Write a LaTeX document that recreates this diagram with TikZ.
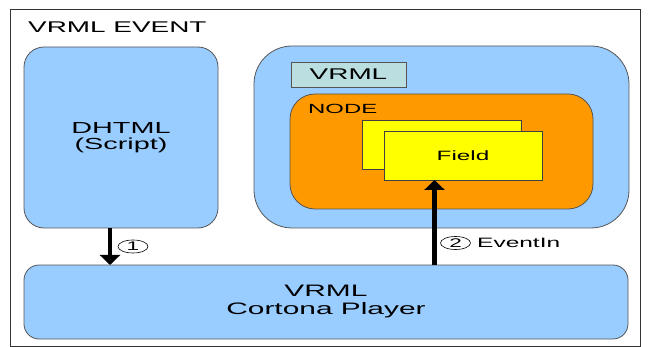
\documentclass[tikz,border=0pt]{standalone}
\usepackage{fontspec}
\setmainfont{Liberation Sans}[FakeStretch=1.8]
\usetikzlibrary{arrows.meta,shapes.geometric}
\definecolor{lblue}{HTML}{99CCFF}
\definecolor{orng}{HTML}{FF9900}
\definecolor{yel}{HTML}{FFFF00}
\definecolor{teal2}{HTML}{BBDFE0}
\definecolor{edge}{HTML}{555555}
\begin{document}
\begin{tikzpicture}[x=1pt,y=-1pt,
  panel/.style={draw=edge, line width=0.8pt, inner sep=0pt, outer sep=0pt},
  bluebox/.style={panel, fill=lblue},
  arr/.style={line width=4.5pt, -{Triangle[width=20pt,length=10pt]}},
  circ/.style={ellipse, draw=black, line width=0.6pt, minimum width=30pt, minimum height=13pt, inner sep=0pt, font=\fontsize{12.5}{12}\selectfont}
]
\useasboundingbox (0,0) rectangle (650,347);
\draw[line width=0.8pt, draw=black!80] (10,9) rectangle (640,346);
\node[anchor=base west, inner sep=0pt, font=\fontsize{15.5}{16}\selectfont] (title) at (28,33) {VRML EVENT};

\node[bluebox, rounded corners=20pt, minimum width=194pt, minimum height=181pt,
      align=center, font=\fontsize{16}{16}\selectfont] (dhtml) at (121,137.5) {DHTML\\(Script)};

\node[bluebox, rounded corners=38pt, minimum width=375pt, minimum height=182pt] (vrmlbox) at (441.5,137) {};
\node[panel, fill=teal2, minimum width=115pt, minimum height=25pt, font=\fontsize{15.5}{16}\selectfont] (vrmllabel) at (348.5,74.5) {VRML};
\node[panel, fill=orng, rounded corners=25pt, minimum width=303pt, minimum height=115pt] (node) at (441.5,151.5) {};
\node[anchor=base west, inner sep=0pt, font=\fontsize{13.3}{14}\selectfont] (nodelabel) at (308,114) {NODE};
\node[panel, draw=black!75, fill=yel, minimum width=159pt, minimum height=49pt] (fieldback) at (441.5,144.5) {};
\node[panel, draw=black!75, fill=yel, minimum width=158pt, minimum height=49pt, font=\fontsize{13.5}{14}\selectfont] (field) at (463,155.5) {Field};

\node[bluebox, rounded corners=15pt, minimum width=604pt, minimum height=74pt,
      align=center, font=\fontsize{16.6}{18}\selectfont] (player) at (326,302) {VRML\\Cortona Player};

\coordinate (a1) at (110,0);
\coordinate (a2) at (434.5,0);
\draw[arr] (dhtml.south -| a1) -- (player.north -| a1);
\draw[arr] (player.north -| a2) -- (field.south -| a2);

\node[circ] (c1) at (133,246.5) {1};
\node[circ] (c2) at (455.5,243) {2};
\node[anchor=west, inner sep=0pt, font=\fontsize{13.6}{14}\selectfont] (evin) at (477,243) {EventIn};
\end{tikzpicture}
\end{document}
